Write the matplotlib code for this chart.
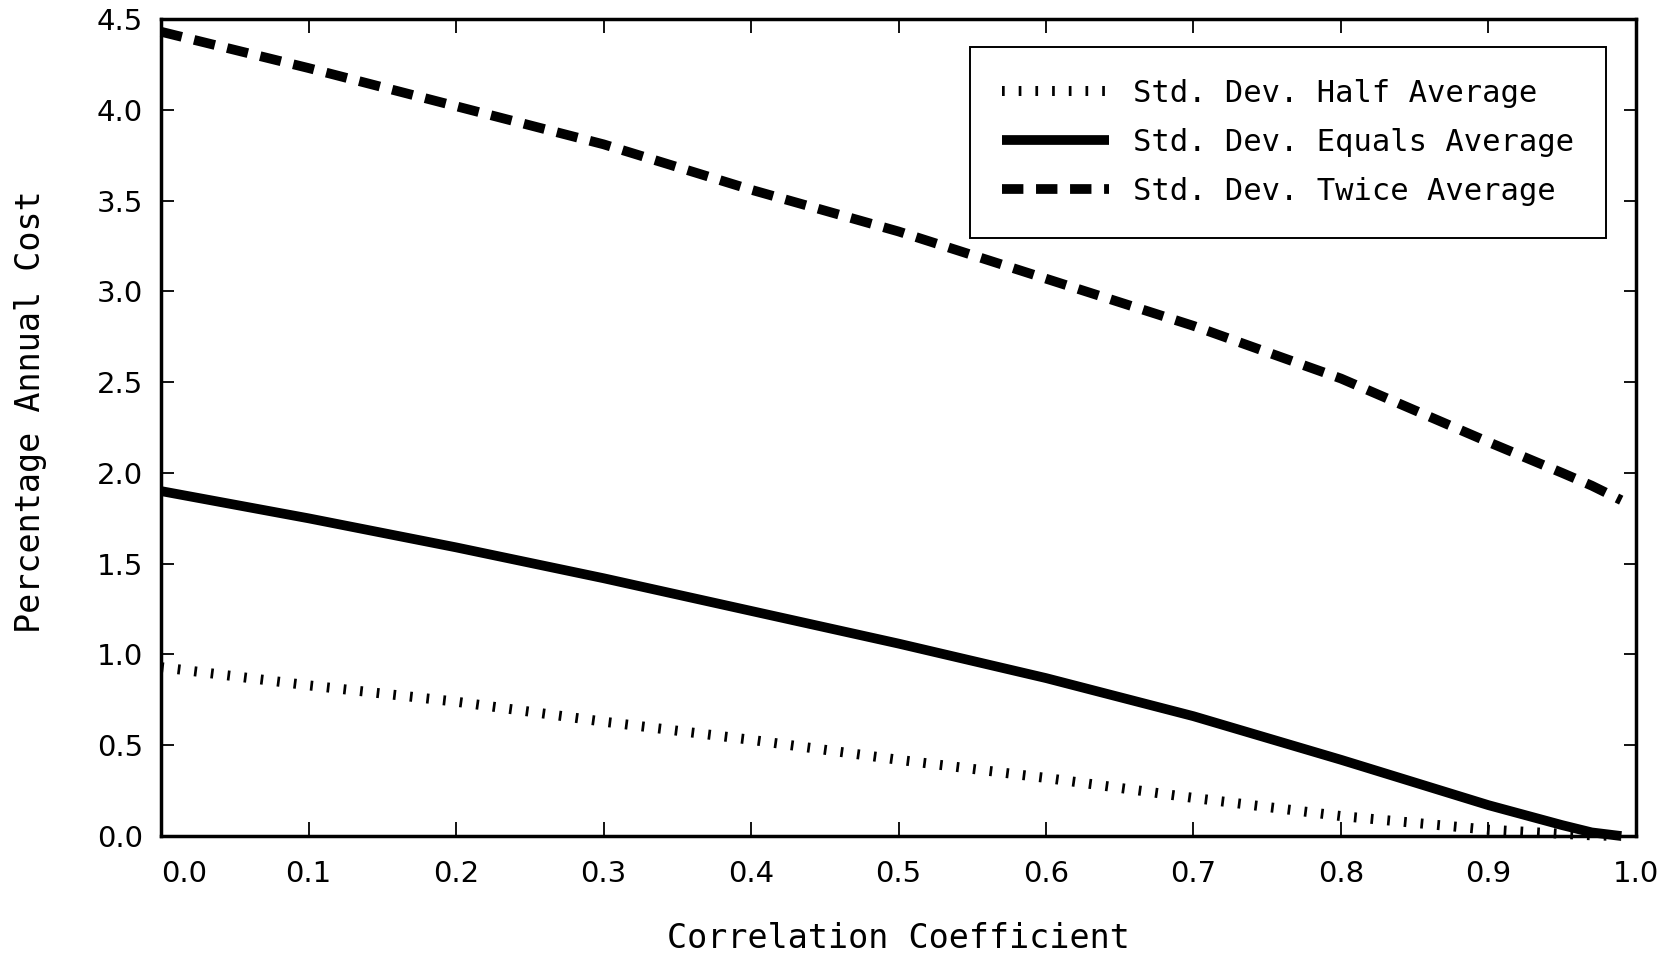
import matplotlib.pyplot as plt
import numpy as np

# values
corr = [0.0, 0.1, 0.2, 0.3, 0.4, 0.5, 0.6, 0.7, 0.8, 0.9, 0.95, 0.97, 0.99]
half_avg = [0.93, 0.83, 0.74, 0.63, 0.53, 0.42, 0.32, 0.21, 0.11, 0.035, 0.012, 0.004, 0.0]
equals_avg = [1.90, 1.75, 1.59, 1.42, 1.24, 1.06, 0.87, 0.66, 0.42, 0.17, 0.06, 0.02, 0.0]
twice_avg = [4.43, 4.23, 4.02, 3.81, 3.56, 3.33, 3.07, 2.81, 2.52, 2.17, 2.00, 1.93, 1.85]

labels = ['Std. Dev. Half Average', 'Std. Dev. Equals Average', 'Std. Dev. Twice Average']
xticks = np.arange(0, 1.01, 0.1)
yticks = np.arange(0, 4.51, 0.5)

mono = 'DejaVu Sans Mono'

fig = plt.figure(figsize=(16.69, 9.57), dpi=100)
ax = fig.add_axes([0.0965, 0.1264, 0.8837, 0.8537])

ax.plot(corr, half_avg, color='black', lw=7.2, dashes=(0.27, 1.4),
        dash_capstyle='butt', label=labels[0], clip_on=False)
ax.plot(corr, equals_avg, color='black', lw=7, solid_capstyle='butt',
        label=labels[1], clip_on=False)
ax.plot(corr, twice_avg, color='black', lw=7, dashes=(2.2, 1.3),
        dash_capstyle='butt', label=labels[2], clip_on=False)

ax.set_xlim(0, 1.0)
ax.set_ylim(0, 4.5)
ax.set_xticks(xticks)
ax.set_yticks(yticks)
ax.set_xticklabels([f'{v:.1f}' for v in xticks], fontsize=21)
ax.set_yticklabels([f'{v:.1f}' for v in yticks], fontsize=21)
ax.get_xticklabels()[0].set_horizontalalignment('left')

ax.tick_params(axis='both', direction='in', top=True, right=True, width=1.3, color='black')
ax.tick_params(axis='x', length=10, pad=17)
ax.tick_params(axis='y', length=9, pad=13)
for s in ax.spines.values():
    s.set_linewidth(2.5)

ax.set_xlabel('Correlation Coefficient', fontsize=24, family=mono)
ax.set_ylabel('Percentage Annual Cost', fontsize=24, family=mono)
ax.xaxis.set_label_coords(0.5, -0.105)
ax.yaxis.set_label_coords(-0.077, 0.52)

leg = ax.legend(loc='upper right', bbox_to_anchor=(0.980, 0.966), borderaxespad=0,
                prop={'family': mono, 'size': 22}, handlelength=3.5, handletextpad=0.8,
                labelspacing=0.65, borderpad=1.05, fancybox=False, framealpha=1)
leg.get_frame().set_edgecolor('black')
leg.get_frame().set_linewidth(1.4)

fig.savefig('out.png', dpi=100)
